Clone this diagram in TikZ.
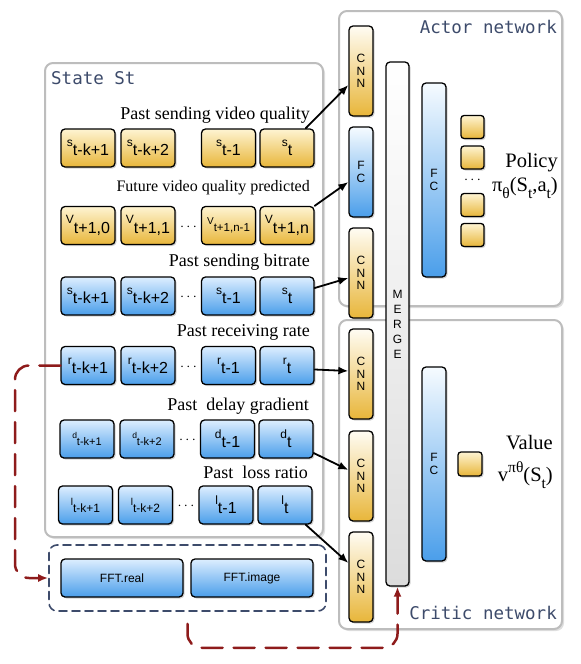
\documentclass[tikz,border=0pt]{standalone}
\usepackage{fontspec}
\setmainfont{Liberation Serif}
\setsansfont{Liberation Sans}
\setmonofont{DejaVu Sans Mono}
\usetikzlibrary{arrows.meta,shadows,calc}

\definecolor{goldA}{HTML}{FEF4D2}
\definecolor{goldB}{HTML}{E8B63A}
\definecolor{creamA}{HTML}{FFFCF3}
\definecolor{skyA}{HTML}{DDEEFF}
\definecolor{skyB}{HTML}{4A9EEA}
\definecolor{iceA}{HTML}{F6FBFF}
\definecolor{mergeB}{HTML}{DCDCDC}
\definecolor{panelgray}{HTML}{BDBDBD}
\definecolor{titleblue}{HTML}{3D4B6B}
\definecolor{flowred}{HTML}{8E1B1B}

% base letter raised, index on the baseline
\newcommand{\vsub}[3][12]{\raisebox{0.58em}{\fontsize{#1}{#1}\selectfont #2}#3}
\newcommand{\lsub}[1]{\raisebox{-0.3em}{\fontsize{15.5}{15.5}\selectfont #1}}
\newcommand{\lsup}[1]{\raisebox{0.45em}{\fontsize{15.5}{15.5}\selectfont #1}}

\begin{document}
\begin{tikzpicture}[x=1pt, y=-1pt, line cap=round, line join=round,
  >={Latex[length=10pt,width=8pt]},
  panel/.style={draw=panelgray, line width=2pt, rounded corners=8pt, fill=white,
    drop shadow={opacity=0.25, shadow xshift=2pt, shadow yshift=-2pt}},
  ttl/.style={font=\ttfamily\fontsize{17.5}{20}\selectfont, text=titleblue, inner sep=0pt},
  cell/.style={draw=black, line width=1.3pt, rounded corners=4pt, minimum width=54,
    minimum height=38, inner sep=0pt, font=\sffamily\fontsize{16}{18}\selectfont,
    drop shadow={opacity=0.35, shadow xshift=1.5pt, shadow yshift=-1.5pt}},
  ycell/.style={cell, top color=goldA, bottom color=goldB},
  bcell/.style={cell, top color=skyA, bottom color=skyB},
  bar/.style={draw=black, line width=1.3pt, rounded corners=4pt, minimum width=24,
    inner sep=0pt, align=center, font=\sffamily\fontsize{12}{12.5}\selectfont,
    drop shadow={opacity=0.35, shadow xshift=1.5pt, shadow yshift=-1.5pt}},
  cnnbar/.style={bar, minimum height=90, top color=creamA, bottom color=goldB},
  fcbar/.style={bar, top color=iceA, bottom color=skyB},
  outsq/.style={ycell, minimum width=23, minimum height=23, rounded corners=3pt},
  lab/.style={anchor=east, inner sep=0pt, font=\fontsize{18}{20}\selectfont},
  biglab/.style={lab, font=\fontsize{20.5}{22}\selectfont},
  dots/.style={inner sep=0pt, font=\fontsize{14}{14}\selectfont},
  flow/.style={->, line width=1.8pt},
  redflow/.style={->, draw=flowred, line width=2.5pt, dash pattern=on 21pt off 11pt,
    rounded corners=14pt},
  fftframe/.style={draw=titleblue, line width=1.6pt, rounded corners=8pt,
    dash pattern=on 8pt off 5pt}]
  \useasboundingbox (0,0) rectangle (581,664);

  % panels
  \node[panel, minimum width=278, minimum height=474] (state) at (184,300) {};
  \node[panel, minimum width=223, minimum height=295] (actor) at (450.5,158.5) {};
  \node[panel, minimum width=223, minimum height=309] (critic) at (450.5,474.5) {};
  \node[ttl, anchor=west] (statettl) at (51,78) {State St};
  \node[ttl, anchor=east] (actorttl) at (557,27) {Actor network};
  \node[ttl, anchor=east] (criticttl) at (557,613) {Critic network};

  % state rows
  \node[lab] (lq) at (310,115) {Past sending video quality};
  \foreach \x/\t [count=\i] in {88/{\vsub{s}{t-k+1}},148/{\vsub{s}{t-k+2}},228.5/{\vsub{s}{t-1}},287/{\vsub{s}{t}}}
    \node[ycell] (q\i) at (\x,148) {\t};

  \node[lab, font=\fontsize{16}{18}\selectfont] (lv) at (310,188) {Future video quality predicted};
  \foreach \x/\t [count=\i] in {88/{\vsub{V}{t+1,0}},148/{\vsub{V}{t+1,1}},228.5/{\fontsize{11.5}{12}\selectfont\vsub[10]{V}{t+1,n-1}},287/{\vsub{V}{t+1,n}}}
    \node[ycell] (v\i) at (\x,225.5) {\t};
  \node[dots] (dv) at (188.5,227) {$\cdots$};

  \node[lab] (lb) at (310,262) {Past sending bitrate};
  \foreach \x/\t [count=\i] in {88/{\vsub{s}{t-k+1}},148/{\vsub{s}{t-k+2}},228.5/{\vsub{s}{t-1}},287/{\vsub{s}{t}}}
    \node[bcell] (b\i) at (\x,296) {\t};
  \node[dots] (db) at (188.5,297) {$\cdots$};

  \node[lab] (lr) at (310,332) {Past receiving rate};
  \foreach \x/\t [count=\i] in {88/{\vsub{r}{t-k+1}},148/{\vsub{r}{t-k+2}},228.5/{\vsub{r}{t-1}},287/{\vsub{r}{t}}}
    \node[bcell] (r\i) at (\x,365.5) {\t};
  \node[dots] (dr) at (188.5,367) {$\cdots$};

  \node[lab] (ld) at (309,406) {Past~ delay gradient};
  \foreach \x/\t [count=\i] in {87/{\fontsize{11}{12}\selectfont\vsub[8.5]{d}{t-k+1}},147/{\fontsize{11}{12}\selectfont\vsub[8.5]{d}{t-k+2}},227.5/{\vsub{d}{t-1}},286/{\vsub{d}{t}}}
    \node[bcell] (d\i) at (\x,439) {\t};
  \node[dots] (dd) at (187.5,440) {$\cdots$};

  \node[lab] (ll) at (308,472) {Past~ loss ratio};
  \foreach \x/\t [count=\i] in {85.5/{\fontsize{12}{12}\selectfont\vsub[10]{l}{t-k+1}},145.5/{\fontsize{12}{12}\selectfont\vsub[10]{l}{t-k+2}},226/{\vsub{l}{t-1}},285/{\vsub{l}{t}}}
    \node[bcell] (l\i) at (\x,505) {\t};
  \node[dots] (dl) at (186,506) {$\cdots$};

  % fft
  \node[fftframe, minimum width=277, minimum height=66] (fftbox) at (187.5,578) {};
  \node[bcell, minimum width=122, font=\sffamily\fontsize{12}{14}\selectfont] (fftre) at (122,578) {FFT.real};
  \node[bcell, minimum width=122, font=\sffamily\fontsize{12}{14}\selectfont] (fftim) at (252,578) {FFT.image};

  % networks
  \node[cnnbar] (cnnA) at (361,71) {C\\N\\N};
  \node[fcbar, minimum height=90] (fcA) at (361,172) {F\\C};
  \node[cnnbar] (cnnB) at (361,273) {C\\N\\N};
  \node[cnnbar] (cnnC) at (361,374) {C\\N\\N};
  \node[cnnbar] (cnnD) at (361,476) {C\\N\\N};
  \node[cnnbar] (cnnE) at (361,577) {C\\N\\N};
  \node[bar, minimum width=23, minimum height=524, top color=white, bottom color=mergeB,
    font=\sffamily\fontsize{12}{15}\selectfont] (merge) at (397.5,324) {M\\E\\R\\G\\E};
  \node[fcbar, minimum height=194] (fcP) at (434,180) {F\\C};
  \node[fcbar, minimum height=194] (fcV) at (434,464) {F\\C};

  \foreach \y [count=\i] in {127,157.5,205,235}
    \node[outsq] (pi\i) at (472.5,\y) {};
  \node[dots] (pdots) at (472.5,180) {$\cdots$};
  \node[biglab] (policy) at (558,163) {Policy};
  \node[biglab] (pisym) at (558,188) {π\lsub{θ}(S\lsub{t},a\lsub{t})};
  \node[outsq, minimum width=24, minimum height=24] (val) at (470,464) {};
  \node[biglab] (value) at (553,443) {Value};
  \node[biglab] (vsym) at (553,475) {v\lsup{πθ}(S\lsub{t})};

  % connectors
  \draw[flow] ($(q4.north east)+(-9,0)$) -- ($(cnnA.west)+(0,14)$);
  \draw[flow] (v4.north east) -- ($(fcA.west)+(0,10)$);
  \draw[flow] ($(b4.east)+(0,-8)$) -- ($(cnnB.west)+(0,5)$);
  \draw[flow] ($(r4.east)+(0,4)$) -- ($(cnnC.west)+(0,-3)$);
  \draw[flow] ($(d4.east)+(0,14)$) -- ($(cnnD.west)+(0,-6)$);
  \draw[flow] ($(l4.south east)+(-7,0)$) -- ($(cnnE.west)+(0,-14)$);
  \draw[redflow] (r1.west) -- (15,365.5) -- (15,578) -- (fftbox.west);
  \draw[redflow] ($(fftbox.south)+(0,12)$) -- ($(fftbox.south)+(0,36)$) -| (merge.south);
\end{tikzpicture}
\end{document}
